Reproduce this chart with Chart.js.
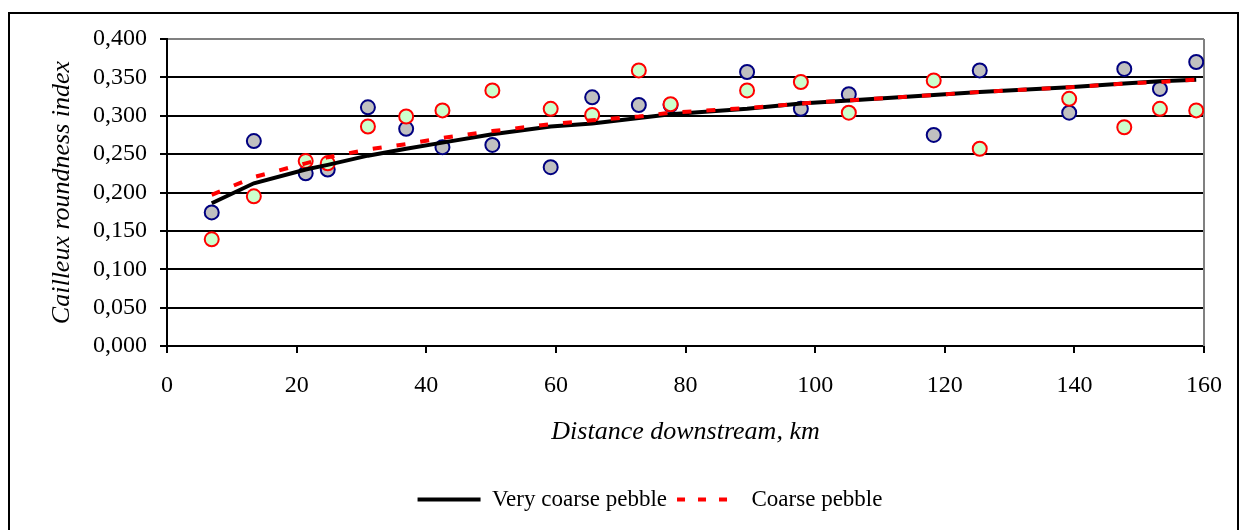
<!DOCTYPE html>
<html>
<head>
<meta charset="utf-8">
<title>Cailleux roundness index</title>
<script src="https://cdn.jsdelivr.net/npm/chart.js@4.4.1/dist/chart.umd.min.js"></script>
<style>
  html, body { margin: 0; padding: 0; background: #fff; overflow: hidden; }
  #wrap { position: relative; width: 1244px; height: 530px; }
  #roundChart { display: block; width: 1244px; height: 530px; }
</style>
</head>
<body>
<div id="wrap"><canvas id="roundChart" width="1244" height="530"></canvas></div>
<script>
  // distances of the sampling sites, km
  const distanceKm = [6.9, 13.4, 21.4, 24.8, 31.0, 36.9, 42.5, 50.2, 59.2, 65.6, 72.8, 77.7, 89.5, 97.8, 105.2, 118.3, 125.4, 139.2, 147.7, 153.2, 158.8];
  const veryCoarseIndex = [0.174, 0.267, 0.225, 0.230, 0.311, 0.283, 0.259, 0.262, 0.233, 0.324, 0.314, 0.314, 0.357, 0.309, 0.328, 0.275, 0.359, 0.304, 0.361, 0.335, 0.370];
  const coarseIndex = [0.139, 0.195, 0.241, 0.238, 0.286, 0.299, 0.307, 0.333, 0.309, 0.301, 0.359, 0.315, 0.333, 0.344, 0.304, 0.346, 0.257, 0.322, 0.285, 0.309, 0.307];
  const veryCoarseTrend = [0.186, 0.212, 0.230, 0.236, 0.248, 0.257, 0.265, 0.276, 0.286, 0.290, 0.297, 0.302, 0.309, 0.316, 0.320, 0.327, 0.331, 0.337, 0.342, 0.345, 0.347];
  const coarseTrend = [0.197, 0.220, 0.238, 0.246, 0.256, 0.263, 0.271, 0.280, 0.289, 0.294, 0.299, 0.304, 0.310, 0.316, 0.320, 0.327, 0.331, 0.337, 0.342, 0.344, 0.347];
  const xTicks = [0, 20, 40, 60, 80, 100, 120, 140, 160];
  const yTicks = [0, 0.05, 0.1, 0.15, 0.2, 0.25, 0.3, 0.35, 0.4];

  const SERIF = "'Liberation Serif', 'Times New Roman', serif";

  function pairs(ys) {
    return distanceKm.map((x, i) => ({ x, y: ys[i] }));
  }

  // outer frame + gray right edge of the plot
  const framePlugin = {
    id: 'frame',
    beforeDraw(chart) {
      const ctx = chart.ctx;
      ctx.save();
      ctx.fillStyle = '#fff';
      ctx.fillRect(0, 0, chart.width, chart.height);
      ctx.strokeStyle = '#000';
      ctx.lineWidth = 2;
      ctx.strokeRect(9, 13, 1229, 540);
      ctx.restore();
    },
    beforeDatasetsDraw(chart) {
      const { ctx, chartArea } = chart;
      ctx.save();
      ctx.strokeStyle = '#808080';
      ctx.lineWidth = 2;
      ctx.beginPath();
      ctx.moveTo(chartArea.right, chartArea.top);
      ctx.lineTo(chartArea.right, chartArea.bottom);
      ctx.stroke();
      ctx.restore();
    },
  };

  // nudge the legend so it sits where the original has it
  const legendShift = {
    id: 'legendShift',
    afterLayout(chart) {
      chart.legend.left += 48;
      chart.legend.right += 48;
    },
  };

  new Chart(document.getElementById('roundChart'), {
    type: 'scatter',
    data: {
      datasets: [
        {
          label: 'Very coarse pebble',
          data: pairs(veryCoarseTrend),
          showLine: true,
          borderColor: '#000',
          borderWidth: 4,
          pointRadius: 0,
          tension: 0,
          order: 1,
        },
        {
          label: 'Coarse pebble',
          data: pairs(coarseTrend),
          showLine: true,
          borderColor: '#ff0000',
          borderWidth: 4,
          borderDash: [9, 15],
          pointRadius: 0,
          tension: 0,
          order: 0,
        },
        {
          label: 'Very coarse pebble data',
          data: pairs(veryCoarseIndex),
          pointRadius: 7,
          pointBorderWidth: 2,
          pointBackgroundColor: '#c0c0c0',
          pointBorderColor: '#000080',
          order: 3,
        },
        {
          label: 'Coarse pebble data',
          data: pairs(coarseIndex),
          pointRadius: 7,
          pointBorderWidth: 2,
          pointBackgroundColor: '#ccffcc',
          pointBorderColor: '#ff0000',
          order: 2,
        },
      ],
    },
    options: {
      responsive: false,
      animation: false,
      devicePixelRatio: 1,
      layout: { padding: { top: 39, right: 40, bottom: 9, left: 0 } },
      plugins: {
        tooltip: { enabled: false },
        legend: {
          position: 'bottom',
          labels: {
            usePointStyle: true,
            pointStyleWidth: 63,
            padding: 10,
            color: '#000',
            font: { family: SERIF, size: 23 },
            generateLabels(chart) {
              const ds = chart.data.datasets;
              return [
                { text: ds[0].label, strokeStyle: '#000', fillStyle: '#000', lineWidth: 4, lineDash: [], pointStyle: 'line', datasetIndex: 0 },
                { text: ds[1].label, strokeStyle: '#ff0000', fillStyle: '#ff0000', lineWidth: 4, lineDash: [8, 13], pointStyle: 'line', datasetIndex: 1 },
              ];
            },
          },
        },
      },
      scales: {
        x: {
          type: 'linear',
          min: xTicks[0],
          max: xTicks[xTicks.length - 1],
          afterBuildTicks(scale) { scale.ticks = xTicks.map((v) => ({ value: v })); },
          afterFit(scale) { scale.height = 132; },
          border: { display: true, color: '#000', width: 2 },
          grid: { drawOnChartArea: false, tickLength: 7, tickColor: '#000', lineWidth: 2 },
          ticks: { color: '#000', padding: 18, maxRotation: 0, font: { family: SERIF, size: 24 } },
          title: {
            display: true,
            text: 'Distance downstream, km',
            color: '#000',
            font: { family: SERIF, size: 26, style: 'italic' },
            padding: { top: 0, bottom: 30 },
          },
        },
        y: {
          type: 'linear',
          min: yTicks[0],
          max: yTicks[yTicks.length - 1],
          afterBuildTicks(scale) { scale.ticks = yTicks.map((v) => ({ value: v })); },
          afterFit(scale) { scale.width = 167; },
          border: { display: true, color: '#000', width: 2 },
          grid: {
            color: (c) => (c.tick && c.tick.value === 0.4 ? '#808080' : '#000'),
            tickColor: '#000',
            tickLength: 7,
            lineWidth: 2,
          },
          ticks: {
            color: '#000',
            padding: 13,
            font: { family: SERIF, size: 24 },
            callback: (v) => Number(v).toFixed(3).replace('.', ','),
          },
          title: {
            display: true,
            text: 'Cailleux roundness index',
            color: '#000',
            font: { family: SERIF, size: 26, style: 'italic' },
            padding: { top: 47, bottom: 0 },
          },
        },
      },
    },
    plugins: [framePlugin, legendShift],
  });
</script>
</body>
</html>
